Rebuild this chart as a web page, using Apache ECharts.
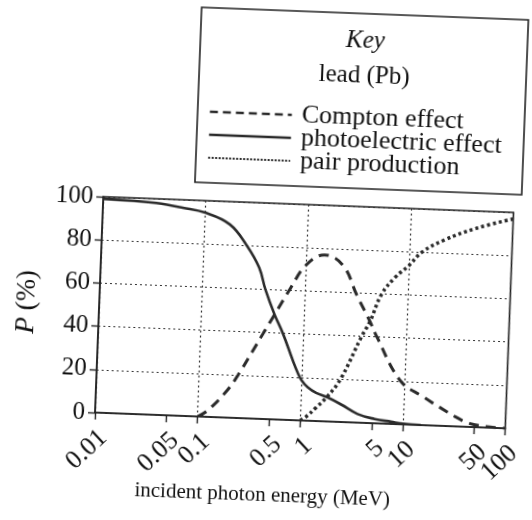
<!DOCTYPE html>
<html>
<head>
<meta charset="utf-8">
<script src="https://cdn.jsdelivr.net/npm/echarts@6/dist/echarts.min.js"></script>
<style>
  html, body { margin: 0; padding: 0; background: #fff; }
  #chart { width: 532px; height: 520px; transform: rotate(2.2deg); }
</style>
</head>
<body>
<div id="chart"></div>
<script>
// Interaction probabilities in lead (Pb) versus incident photon energy
const energyTicks = [0.01, 0.05, 0.1, 0.5, 1, 5, 10, 50, 100];
const probTicks = [0, 20, 40, 60, 80, 100];

const seriesNames = ['Compton effect', 'photoelectric effect', 'pair production'];

const comptonE = [0.1, 0.125, 0.19, 0.24, 0.41, 0.515, 0.72, 1.0, 1.5, 2.3, 3.2, 4.4, 5.2, 9.2, 15.6, 22.7, 32, 44, 70, 100];
const comptonP = [0, 3, 12.6, 20, 40, 48.5, 61, 72, 77, 72.4, 59, 47, 40, 20, 13, 8.5, 4.6, 1.7, 0.3, 0];

const photoE = [0.01, 0.02, 0.033, 0.06, 0.1, 0.175, 0.26, 0.35, 0.41, 0.515, 0.63, 0.8, 0.91, 1.0, 1.15, 1.4, 1.8, 2.5, 3.6, 5.3, 7.7, 10, 15];
const photoP = [99, 98.6, 98, 96.3, 94.4, 89.4, 80, 70, 60, 48.5, 40, 28, 22, 18.5, 15.5, 13, 11.2, 8, 4, 2, 1, 0.3, 0];

const pairE = [1.0, 1.15, 1.4, 1.8, 2.4, 3.7, 4.4, 5.6, 7.5, 10, 13.3, 21.7, 44, 100];
const pairP = [0, 2, 6, 11.5, 20, 40, 47, 60, 68, 73.5, 80, 86, 92, 97];

const pairs = (xs, ys) => xs.map((x, i) => [x, ys[i]]);

// the last label sits on its own axis so its neighbour is not dropped as overlapping
const lowerLabels = energyTicks.slice(0, -1);
const endLabels = energyTicks.slice(-1);

const ink = '#2b2b2b';
const serif = '"Liberation Serif", "Times New Roman", serif';

const styles = {
  'Compton effect': { type: [10, 7], width: 3 },
  'photoelectric effect': { type: 'solid', width: 2.6 },
  'pair production': { type: [3, 3], width: 3.5 }
};
const keyStyles = {
  'Compton effect': { type: [8, 5], width: 2.5 },
  'photoelectric effect': { type: 'solid', width: 2.5 },
  'pair production': { type: [2, 1.5], width: 2 }
};

const tickLabelStyle = {
  rotate: 45, margin: 12, fontSize: 26, fontFamily: serif, color: '#111',
  verticalAlign: 'top',
  formatter: v => String(v)
};

const chart = echarts.init(document.getElementById('chart'), null, { renderer: 'canvas' });

const lineSeries = (name, xs, ys) => ({
  name,
  type: 'line',
  xAxisIndex: 0,
  yAxisIndex: 0,
  data: pairs(xs, ys),
  smooth: 0.4,
  symbol: 'none',
  lineStyle: Object.assign({ color: ink, cap: 'butt' }, styles[name]),
  itemStyle: { color: ink },
  z: 3
});

chart.setOption({
  animation: false,
  backgroundColor: '#fff',
  textStyle: { fontFamily: serif, color: '#111' },
  title: {
    text: 'Key',
    subtext: 'lead (Pb)',
    left: 352,
    top: 20,
    textAlign: 'center',
    itemGap: 10,
    textStyle: { fontFamily: serif, fontStyle: 'italic', fontWeight: 'normal', fontSize: 25, color: '#111' },
    subtextStyle: { fontFamily: serif, fontSize: 25, color: '#111' }
  },
  legend: {
    orient: 'vertical',
    left: 198,
    top: 96,
    itemWidth: 82,
    itemHeight: 14,
    itemGap: -3,
    selectedMode: false,
    textStyle: { fontFamily: serif, fontSize: 26, color: '#111', lineHeight: 23, padding: [0, 0, 0, 5] },
    data: seriesNames.map(n => ({
      name: n,
      itemStyle: { opacity: 0 },
      lineStyle: Object.assign({ color: ink, opacity: 1 }, keyStyles[n])
    }))
  },
  graphic: [{
    type: 'rect',
    shape: { x: 192, y: 10, width: 327, height: 175 },
    style: { fill: 'none', stroke: '#222', lineWidth: 1.6 },
    z: 0
  }],
  grid: {
    left: 101, right: 12, top: 203, bottom: 101,
    show: true,
    borderColor: '#222',
    borderWidth: 1.6,
    backgroundColor: 'transparent'
  },
  xAxis: [{
    type: 'log',
    logBase: 10,
    min: 0.01,
    max: 100,
    position: 'bottom',
    name: 'incident photon energy (MeV)',
    nameLocation: 'middle',
    nameGap: 62,
    nameTextStyle: { fontFamily: serif, fontSize: 21, color: '#111', padding: [0, 70, 0, 0] },
    axisLine: { show: true, lineStyle: { color: '#222', width: 1.6 } },
    axisTick: { show: true, length: 7, lineStyle: { color: '#222', width: 1.4 }, customValues: energyTicks },
    axisLabel: Object.assign({ customValues: lowerLabels, showMinLabel: true }, tickLabelStyle),
    splitLine: { show: false },
    minorTick: { show: false }
  }, {
    type: 'log',
    logBase: 10,
    min: 0.01,
    max: 100,
    position: 'bottom',
    offset: 0,
    axisLine: { show: false },
    axisTick: { show: false },
    axisLabel: Object.assign({ customValues: endLabels, showMaxLabel: true }, tickLabelStyle),
    splitLine: { show: true, lineStyle: { color: '#333', width: 1.2, type: [2, 3] } }
  }],
  yAxis: {
    type: 'value',
    min: 0,
    max: 100,
    interval: 20,
    name: '{i|P}{n| (%)}',
    nameLocation: 'middle',
    nameGap: 56,
    nameRotate: 90,
    nameTextStyle: {
      fontFamily: serif, fontSize: 27, color: '#111',
      rich: {
        i: { fontFamily: serif, fontSize: 27, fontStyle: 'italic', color: '#111' },
        n: { fontFamily: serif, fontSize: 27, color: '#111' }
      }
    },
    axisLine: { show: true, lineStyle: { color: '#222', width: 1.6 } },
    axisTick: { show: true, length: 7, lineStyle: { color: '#222', width: 1.4 } },
    axisLabel: { margin: 10, fontSize: 25, fontFamily: serif, color: '#111' },
    splitLine: { show: true, lineStyle: { color: '#333', width: 1.2, type: [2, 3] } }
  },
  series: [
    lineSeries('Compton effect', comptonE, comptonP),
    lineSeries('photoelectric effect', photoE, photoP),
    lineSeries('pair production', pairE, pairP)
  ]
});
</script>
</body>
</html>
